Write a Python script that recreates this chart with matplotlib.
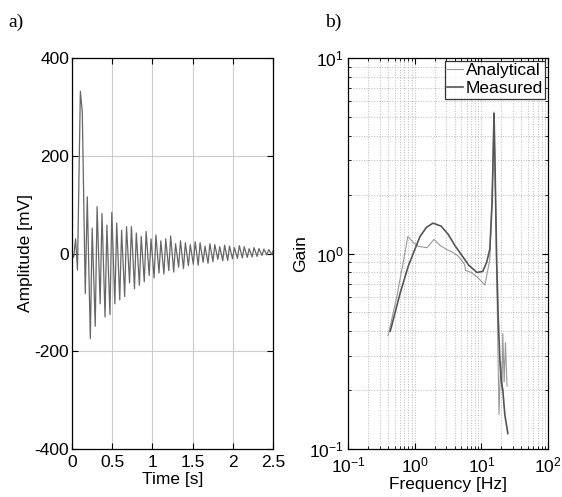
import matplotlib
matplotlib.use("Agg")
import matplotlib.pyplot as plt
from matplotlib.ticker import LogLocator, NullFormatter

plt.rcParams['font.family'] = ['Liberation Sans', 'DejaVu Sans']
plt.rcParams['mathtext.fontset'] = 'custom'
plt.rcParams['mathtext.rm'] = 'Liberation Sans'
plt.rcParams['mathtext.it'] = 'Liberation Sans'
plt.rcParams['axes.unicode_minus'] = False

# ---- Panel a: time signal (extrema) ----
time_s = [0.000, 0.020, 0.045, 0.068, 0.104, 0.128, 0.165,
          0.190, 0.228, 0.251, 0.289, 0.312, 0.350, 0.373, 0.411, 0.434, 0.472,
          0.495, 0.533, 0.556, 0.594, 0.617, 0.655, 0.678, 0.716, 0.739, 0.777,
          0.800, 0.838, 0.861, 0.899, 0.922, 0.960, 0.983, 1.021, 1.044, 1.082,
          1.105, 1.143, 1.166, 1.204, 1.227, 1.265, 1.288, 1.326, 1.349, 1.387,
          1.410, 1.448, 1.471, 1.509, 1.532, 1.570, 1.593, 1.631, 1.654, 1.692,
          1.715, 1.753, 1.776, 1.814, 1.837, 1.875, 1.898, 1.936, 1.959, 1.997,
          2.020, 2.058, 2.081, 2.119, 2.142, 2.180, 2.203, 2.241, 2.264, 2.302,
          2.325, 2.363, 2.386, 2.424, 2.447, 2.485, 2.500]
amplitude_mv = [0, -8, 30, -34, 332, 290, -82,
                116, -174, 52, -149, 96, -103, 82, -130, 58, -125,
                84, -103, 62, -95, 48, -88, 55, -60, 55, -72,
                42, -65, 35, -58, 45, -45, 30, -50, 38, -40,
                26, -42, 30, -35, 36, -38, 20, -28, 26, -31,
                22, -25, 18, -22, 24, -24, 22, -18, 15, -20,
                20, -17, 18, -12, 14, -15, 17, -14, 15, -11,
                12, -10, 16, -9, 14, -8, 10, -7, 12, -6,
                10, -4, 9, -3, 8, -2, 5]
time_ticks = [0, 0.5, 1, 1.5, 2, 2.5]
time_tick_labels = ['0', '0.5', '1', '1.5', '2', '2.5']
amp_ticks = [-400, -200, 0, 200, 400]
amp_tick_labels = ['-400', '-200', '0', '200', '400']

# ---- Panel b: gain vs frequency ----
freq_analytical = [0.40, 0.55, 0.79, 0.95, 1.12, 1.53, 1.95, 2.4, 3.0, 3.6, 4.5,
                   5.6, 5.8, 7.0, 8.6, 11.3, 13.4, 14.8, 15.5, 16.5, 18.4, 19.5,
                   20.4, 21.0, 22.0, 23.0, 24.3]
gain_analytical = [0.38, 0.62, 1.22, 1.14, 1.09, 1.07, 1.18, 1.10, 1.05, 1.02, 0.97,
                   0.88, 0.82, 0.80, 0.76, 0.69, 0.93, 2.5, 5.3, 1.5, 0.15, 0.28,
                   0.20, 0.39, 0.22, 0.35, 0.21]
freq_measured = [0.43, 0.6, 0.8, 0.94, 1.2, 1.5, 1.88, 2.5, 3.2, 4.0, 5.3, 6.5,
                 8.6, 10.5, 12.0, 13.4, 14.5, 15.2, 15.5, 16.0, 17.0, 18.0, 19.0,
                 20.0, 21.0, 22.5, 25.0]
gain_measured = [0.40, 0.62, 0.86, 0.99, 1.22, 1.36, 1.43, 1.38, 1.25, 1.10, 0.96,
                 0.87, 0.80, 0.81, 0.90, 1.05, 1.8, 3.8, 5.2, 3.0, 0.9, 0.45, 0.28,
                 0.22, 0.20, 0.15, 0.12]

FS = 12.5
fig = plt.figure(figsize=(5.62, 4.97), dpi=100)

# Panel a
ax1 = fig.add_axes([72/562, 1-449/497, 201/562, 391/497])
ax1.plot(time_s, amplitude_mv, color='#666666', lw=0.9)
ax1.set_xlim(0, 2.5)
ax1.set_ylim(-400, 400)
ax1.set_xticks(time_ticks, time_tick_labels)
ax1.set_yticks(amp_ticks, amp_tick_labels)
ax1.grid(True, color='#cccccc', lw=0.8)
ax1.set_axisbelow(True)
ax1.tick_params(direction='in', top=True, right=True, labelsize=FS, length=4)
ax1.tick_params(axis='x', pad=4)
ax1.tick_params(axis='y', pad=2)
ax1.set_xlabel('Time [s]', fontsize=FS, labelpad=1.5)
ax1.set_ylabel('Amplitude [mV]', fontsize=FS, labelpad=1)
for s in ax1.spines.values():
    s.set_linewidth(0.9)

# Panel b
ax2 = fig.add_axes([348/562, 1-449/497, 200/562, 391/497])
ax2.plot(freq_analytical, gain_analytical, color='#999999', lw=0.8, label='Analytical')
ax2.plot(freq_measured, gain_measured, color='#555555', lw=1.2, label='Measured')
ax2.set_xscale('log')
ax2.set_yscale('log')
ax2.set_xlim(0.1, 100)
ax2.set_ylim(0.1, 10)
ax2.xaxis.set_major_locator(LogLocator(base=10, numticks=10))
ax2.yaxis.set_major_locator(LogLocator(base=10, numticks=10))
ax2.xaxis.set_minor_locator(LogLocator(base=10, subs=range(2, 10), numticks=20))
ax2.yaxis.set_minor_locator(LogLocator(base=10, subs=range(2, 10), numticks=20))
ax2.xaxis.set_minor_formatter(NullFormatter())
ax2.yaxis.set_minor_formatter(NullFormatter())
ax2.grid(True, which='both', color='#bbbbbb', lw=0.7, ls=':')
ax2.set_axisbelow(True)
ax2.tick_params(which='both', direction='in', top=True, right=True, labelsize=FS)
ax2.tick_params(axis='x', which='both', pad=5)
ax2.tick_params(axis='y', which='both', pad=3)
ax2.tick_params(which='major', length=4)
ax2.tick_params(which='minor', length=2)
ax2.set_xlabel('Frequency [Hz]', fontsize=FS, labelpad=1)
ax2.set_ylabel('Gain', fontsize=FS, labelpad=1)
for s in ax2.spines.values():
    s.set_linewidth(0.9)
leg = ax2.legend(loc='upper right', fontsize=FS, frameon=True, fancybox=False,
                 edgecolor='black', borderaxespad=0.15, handlelength=0.9,
                 handletextpad=0.15, borderpad=0.15, labelspacing=0.15)
leg.get_frame().set_linewidth(0.9)

fig.text(8/562, 1-22/497, 'a)', family=['Liberation Serif', 'DejaVu Serif'], fontsize=14, va='center')
fig.text(325/562, 1-22/497, 'b)', family=['Liberation Serif', 'DejaVu Serif'], fontsize=14, va='center')

fig.savefig('out.png', dpi=100)
